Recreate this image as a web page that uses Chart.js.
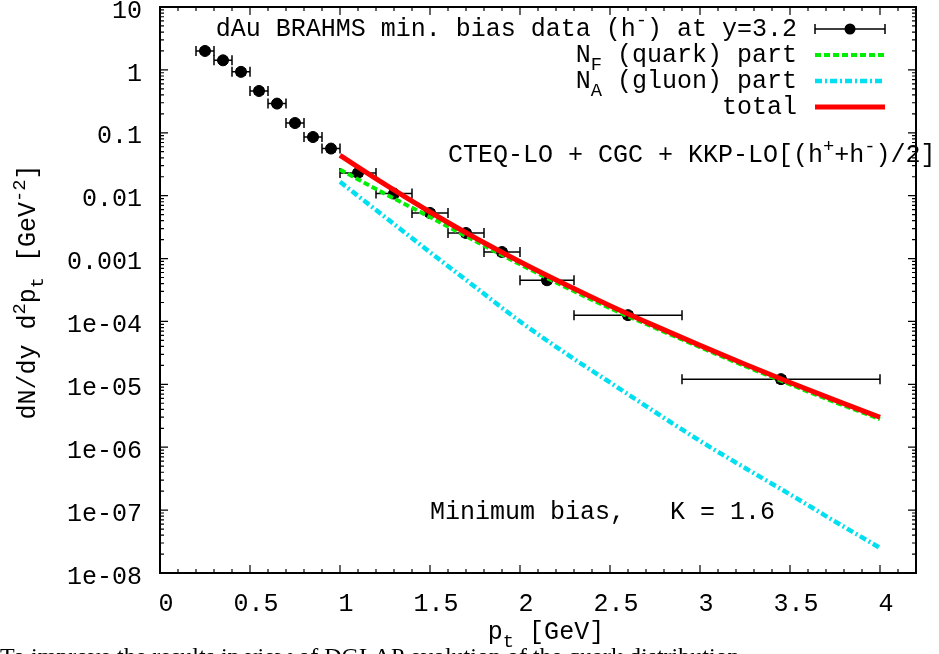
<!DOCTYPE html>
<html>
<head>
<meta charset="utf-8">
<script src="https://cdn.jsdelivr.net/npm/chart.js@4.4.1/dist/chart.umd.min.js"></script>
<style>
  html, body { margin: 0; padding: 0; background: #fff; }
  #wrap { width: 939px; height: 654px; position: relative; }
</style>
</head>
<body>
<div id="wrap"><canvas id="myChart"></canvas></div>
<script>
// BRAHMS dAu h- data at y=3.2
const ptData   = [0.25, 0.35, 0.45, 0.55, 0.65, 0.75, 0.85, 0.95, 1.1, 1.3, 1.5, 1.7, 1.9, 2.15, 2.6, 3.45];
const ptLow    = [0.2, 0.3, 0.4, 0.5, 0.6, 0.7, 0.8, 0.9, 1.0, 1.2, 1.4, 1.6, 1.8, 2.0, 2.3, 2.9];
const ptHigh   = [0.3, 0.4, 0.5, 0.6, 0.7, 0.8, 0.9, 1.0, 1.2, 1.4, 1.6, 1.8, 2.0, 2.3, 2.9, 4.0];
const yieldData = [2.0, 1.42, 0.93, 0.462, 0.291, 0.143, 0.0857, 0.0561, 0.0230, 0.0108, 0.00531, 0.00255, 0.00127, 4.52e-4, 1.26e-4, 1.21e-5];
const yieldErr  = [0.2, 0.15, 0.1, 0.05, 0.03, 0.015, 0.009, 0.006, 0.0025, 0.0012, 0.0006, 0.0003, 0.00015, 0.00005, 0.000015, 0.0000015];

// theory curves
const ptCurve    = [1.0, 1.25, 1.5, 1.75, 2.0, 2.25, 2.5, 2.75, 3.0, 3.25, 3.5, 3.75, 4.0];
const quarkPart  = [0.026, 0.0107, 0.00457, 0.00191, 8.1e-4, 3.55e-4, 1.62e-4, 7.9e-5, 3.9e-5, 1.95e-5, 1.0e-5, 5.2e-6, 2.8e-6];
const gluonPart  = [0.0166, 0.00457, 0.00126, 3.55e-4, 1.0e-4, 3.16e-5, 1.07e-5, 3.63e-6, 1.26e-6, 4.68e-7, 1.78e-7, 6.6e-8, 2.5e-8];
const totalCurve = [0.0437, 0.0151, 0.0055, 0.00214, 8.9e-4, 3.9e-4, 1.78e-4, 8.5e-5, 4.17e-5, 2.09e-5, 1.07e-5, 5.6e-6, 3.0e-6];

const xTickValues = [0, 0.5, 1, 1.5, 2, 2.5, 3, 3.5, 4];
const yTickValues = [1e-8, 1e-7, 1e-6, 1e-5, 1e-4, 1e-3, 1e-2, 0.1, 1, 10];
const yTickLabels = ['1e-08', '1e-07', '1e-06', '1e-05', '1e-04', '0.001', '0.01', '0.1', '1', '10'];

const MONO = '"Liberation Mono", "DejaVu Sans Mono", monospace';
const FS = 25;

// parts: [text, mode] mode 0 normal, 1 subscript, 2 superscript
function drawRich(ctx, parts, x, y, align) {
  let w = 0;
  parts.forEach(([t, m]) => {
    ctx.font = (m ? FS * 0.75 : FS) + 'px ' + MONO;
    w += ctx.measureText(t).width;
  });
  let cx = align === 'right' ? x - w : align === 'center' ? x - w / 2 : x;
  ctx.textBaseline = 'alphabetic';
  ctx.textAlign = 'left';
  parts.forEach(([t, m]) => {
    ctx.font = (m ? FS * 0.75 : FS) + 'px ' + MONO;
    const dy = m === 1 ? FS * 0.3 : m === 2 ? -FS * 0.42 : 0;
    ctx.fillText(t, cx, y + dy);
    cx += ctx.measureText(t).width;
  });
}

const errorBars = {
  id: 'errorBars',
  beforeDatasetsDraw(chart) {
    const {ctx, scales: {x, y}} = chart;
    ctx.save();
    ctx.strokeStyle = '#000';
    ctx.lineWidth = 1.5;
    ptData.forEach((p, i) => {
      const px = x.getPixelForValue(p), py = y.getPixelForValue(yieldData[i]);
      const xl = x.getPixelForValue(ptLow[i]), xh = x.getPixelForValue(ptHigh[i]);
      const yl = y.getPixelForValue(yieldData[i] - yieldErr[i]);
      const yh = y.getPixelForValue(yieldData[i] + yieldErr[i]);
      ctx.beginPath();
      ctx.moveTo(xl, py); ctx.lineTo(xh, py);
      ctx.moveTo(xl, py - 5); ctx.lineTo(xl, py + 5);
      ctx.moveTo(xh, py - 5); ctx.lineTo(xh, py + 5);
      ctx.moveTo(px, yl); ctx.lineTo(px, yh);
      ctx.moveTo(px - 5, yl); ctx.lineTo(px + 5, yl);
      ctx.moveTo(px - 5, yh); ctx.lineTo(px + 5, yh);
      ctx.stroke();
    });
    ctx.restore();
  }
};

const frameAndText = {
  id: 'frameAndText',
  afterDraw(chart) {
    const {ctx, chartArea: a, scales: {x, y}} = chart;
    ctx.save();
    ctx.strokeStyle = '#000';
    ctx.fillStyle = '#000';
    // ticks, mirrored
    ctx.lineWidth = 1.2;
    ctx.beginPath();
    for (let k = 0; k <= 42; k++) {
      const px = x.getPixelForValue(k / 10);
      const len = k % 5 === 0 ? 8 : 4;
      ctx.moveTo(px, a.bottom); ctx.lineTo(px, a.bottom - len);
      ctx.moveTo(px, a.top); ctx.lineTo(px, a.top + len);
    }
    for (let e = -8; e <= 0; e++) {
      for (let m = 1; m <= 10; m++) {
        const py = y.getPixelForValue(m * Math.pow(10, e));
        const len = (m === 1 || m === 10) ? 8 : 4;
        ctx.moveTo(a.left, py); ctx.lineTo(a.left + len, py);
        ctx.moveTo(a.right, py); ctx.lineTo(a.right - len, py);
      }
    }
    ctx.stroke();
    ctx.lineWidth = 2;
    ctx.strokeRect(a.left, a.top, a.right - a.left, a.bottom - a.top);

    // legend
    const lx0 = 815, lx1 = 885, tx = 797;
    const rows = [29, 55, 81, 107];
    drawRich(ctx, [['dAu BRAHMS min. bias data (h', 0], ['-', 2], [') at y=3.2', 0]], tx, rows[0] + 7, 'right');
    drawRich(ctx, [['N', 0], ['F', 1], [' (quark) part', 0]], tx, rows[1] + 7, 'right');
    drawRich(ctx, [['N', 0], ['A', 1], [' (gluon) part', 0]], tx, rows[2] + 7, 'right');
    drawRich(ctx, [['total', 0]], tx, rows[3] + 7, 'right');
    ctx.lineWidth = 1.5;
    ctx.beginPath();
    ctx.moveTo(lx0, rows[0]); ctx.lineTo(lx1, rows[0]);
    ctx.moveTo(lx0, rows[0] - 5); ctx.lineTo(lx0, rows[0] + 5);
    ctx.moveTo(lx1, rows[0] - 5); ctx.lineTo(lx1, rows[0] + 5);
    ctx.stroke();
    ctx.beginPath(); ctx.arc(850, rows[0], 5.5, 0, Math.PI * 2); ctx.fill();
    const samples = [[rows[1], '#00ee00', 4, [6, 3]], [rows[2], '#00e0f0', 4.5, [7, 3, 2, 3]], [rows[3], '#ff0000', 5, []]];
    samples.forEach(([ry, col, lw, dash]) => {
      ctx.strokeStyle = col; ctx.lineWidth = lw; ctx.setLineDash(dash);
      ctx.beginPath(); ctx.moveTo(lx0, ry); ctx.lineTo(lx1, ry); ctx.stroke();
    });
    ctx.setLineDash([]);

    // labels
    drawRich(ctx, [['CTEQ-LO + CGC + KKP-LO[(h', 0], ['+', 2], ['+h', 0], ['-', 2], [')/2]', 0]], 448, 162, 'left');
    drawRich(ctx, [['Minimum bias,   K = 1.6', 0]], 430, 519, 'left');

    // axis titles
    drawRich(ctx, [['p', 0], ['t', 1], [' [GeV]', 0]], 546, 639, 'center');
    ctx.save();
    ctx.translate(35, 292);
    ctx.rotate(-Math.PI / 2);
    drawRich(ctx, [['dN/dy d', 0], ['2', 2], ['p', 0], ['t', 1], [' [GeV', 0], ['-2', 2], [']', 0]], 0, 0, 'center');
    ctx.restore();

    // cut-off text of the page below
    ctx.font = '24px "Liberation Serif", "DejaVu Serif", serif';
    ctx.textAlign = 'left';
    ctx.textBaseline = 'alphabetic';
    ctx.fillText('To improve the results in view of DGLAP evolution of the quark distribution', 0, 664);
    ctx.restore();
  }
};

new Chart(document.getElementById('myChart'), {
  type: 'scatter',
  data: {
    datasets: [{
      label: 'total',
      data: ptCurve.map((p, i) => ({x: p, y: totalCurve[i]})),
      showLine: true,
      borderColor: '#ff0000',
      borderWidth: 5,
      pointRadius: 0,
      cubicInterpolationMode: 'monotone'
    }, {
      label: 'N_F (quark) part',
      data: ptCurve.map((p, i) => ({x: p, y: quarkPart[i]})),
      showLine: true,
      borderColor: '#00ee00',
      borderWidth: 4,
      borderDash: [6, 3],
      pointRadius: 0,
      cubicInterpolationMode: 'monotone'
    }, {
      label: 'N_A (gluon) part',
      data: ptCurve.map((p, i) => ({x: p, y: gluonPart[i]})),
      showLine: true,
      borderColor: '#00e0f0',
      borderWidth: 4.5,
      borderDash: [7, 3, 2, 3],
      pointRadius: 0,
      cubicInterpolationMode: 'monotone'
    }, {
      label: 'dAu BRAHMS min. bias data (h-) at y=3.2',
      data: ptData.map((p, i) => ({x: p, y: yieldData[i]})),
      backgroundColor: '#000',
      borderColor: '#000',
      pointRadius: 5.5,
      showLine: false
    }]
  },
  options: {
    responsive: true,
    maintainAspectRatio: false,
    animation: false,
    layout: { padding: { top: 7, right: 23, left: 0, bottom: 0 } },
    scales: {
      x: {
        type: 'linear',
        min: 0,
        max: 4.2,
        grid: { display: false, drawTicks: false },
        border: { display: false },
        afterBuildTicks: (scale) => { scale.ticks = xTickValues.map(v => ({value: v})); },
        afterFit: (scale) => { scale.height = 81; scale.paddingLeft = 0; scale.paddingRight = 0; },
        ticks: {
          color: '#000',
          font: { family: MONO, size: FS },
          padding: 16,
          labelOffset: 6,
          maxRotation: 0,
          autoSkip: false,
          callback: (v) => String(v)
        }
      },
      y: {
        type: 'logarithmic',
        min: 1e-8,
        max: 10,
        grid: { display: false, drawTicks: false },
        border: { display: false },
        afterBuildTicks: (scale) => { scale.ticks = yTickValues.map(v => ({value: v})); },
        afterFit: (scale) => { scale.width = 160; scale.paddingTop = 0; scale.paddingBottom = 0; },
        ticks: {
          color: '#000',
          font: { family: MONO, size: FS },
          padding: 18,
          labelOffset: 4,
          autoSkip: false,
          callback: (v) => {
            const i = yTickValues.findIndex(t => Math.abs(Math.log10(t) - Math.log10(v)) < 1e-6);
            return i >= 0 ? yTickLabels[i] : '';
          }
        }
      }
    },
    plugins: {
      legend: { display: false },
      tooltip: { enabled: false }
    }
  },
  plugins: [errorBars, frameAndText]
});
</script>
</body>
</html>
